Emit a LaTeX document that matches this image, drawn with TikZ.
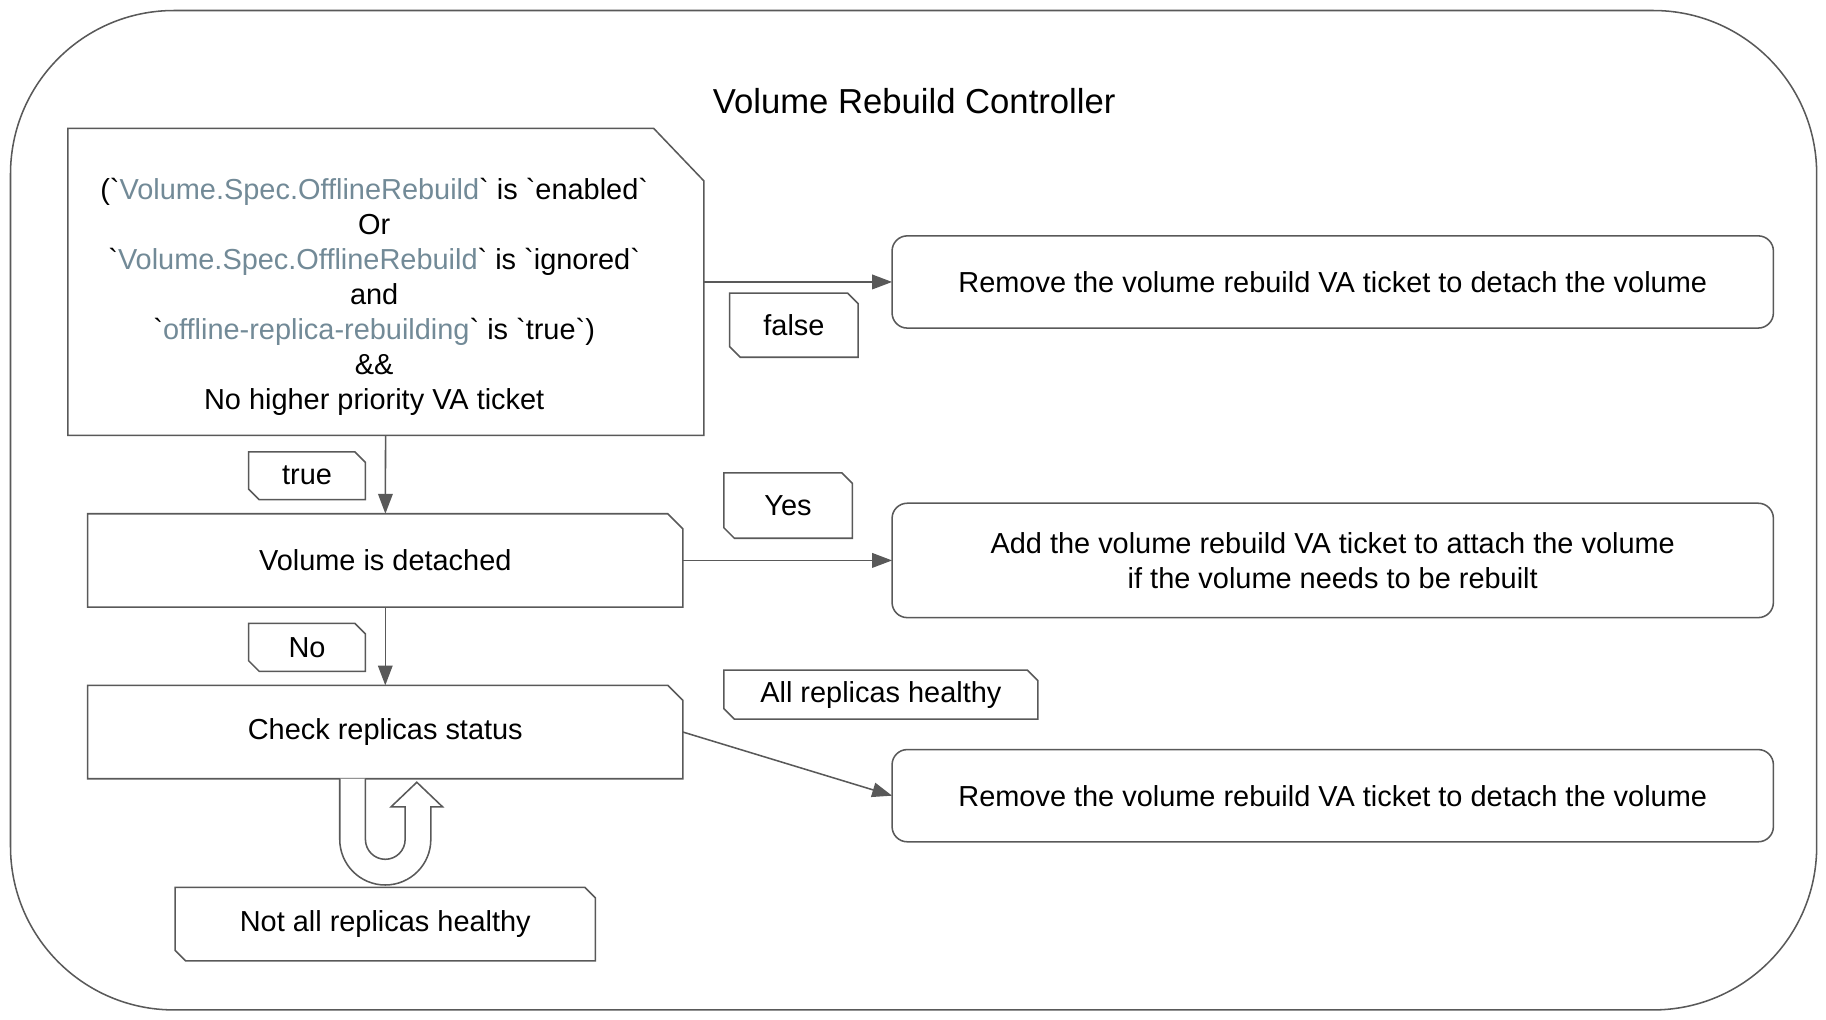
\documentclass[tikz,border=0pt]{standalone}
\usepackage{fontspec}
\setmainfont{Liberation Sans}
\usetikzlibrary{arrows.meta}
\definecolor{linegray}{HTML}{595959}
\definecolor{codegray}{HTML}{728A97}
\newcommand{\bq}{\textasciigrave}
\newcommand{\code}[1]{\textcolor{codegray}{#1}}
\tikzset{
  edge/.style={draw=linegray, line width=0.75pt},
  flow/.style={edge, -{Triangle[length=0.34cm,width=0.25cm]}},
  box/.style={rectangle, inner sep=0pt, outer sep=0pt, align=center},
  act/.style={box, edge, rounded corners=0.26cm, minimum width=15.1cm},
}
\begin{document}
\begin{tikzpicture}[x=0.02cm, y=-0.02cm, font=\fontsize{14.1}{17}\selectfont]
  \useasboundingbox (0,0) rectangle (1564,873);
  \draw[edge, rounded corners=2.8cm] (9,9) rectangle (1556,865);
  \node (title) at (783,87) {\fontsize{16.9}{20}\selectfont Volume Rebuild Controller};

  % decision and steps
  \node (cond) at (330.5,241.5) [box, minimum width=10.9cm, minimum height=5.26cm]
    {\begin{tabular}{@{}c@{\hspace{0.4cm}}}
     \rule{0pt}{0.95cm}(\bq\code{Volume.Spec.OfflineRebuild}\bq{} is \bq enabled\bq\\
     Or\\
     \bq\code{Volume.Spec.OfflineRebuild}\bq{} is \bq ignored\bq\\
     and\\
     \bq\code{offline-replica-rebuilding}\bq{} is \bq true\bq)\\
     \&\&\\
     No higher priority VA ticket
     \end{tabular}};
  \node (detached) at (330,480) [box, minimum width=10.2cm, minimum height=1.6cm] {Volume is detached};
  \node (check) at (330,627) [box, minimum width=10.2cm, minimum height=1.6cm] {Check replicas status};

  % actions
  \node (rm1) at (1141.5,241.5) [act, minimum height=1.58cm] {Remove the volume rebuild VA ticket to detach the volume};
  \node (add) at (1141.5,480) [act, minimum height=1.96cm] {Add the volume rebuild VA ticket to attach the volume\\if the volume needs to be rebuilt};
  \node (rm2) at (1141.5,681.5) [act, minimum height=1.58cm] {Remove the volume rebuild VA ticket to detach the volume};

  % labels
  \node (false) at (680,278.5) [box, minimum width=2.2cm, minimum height=1.1cm] {false};
  \node (true) at (263,407.5) [box, minimum width=2cm, minimum height=0.82cm] {true};
  \node (yes) at (675,433) [box, minimum width=2.2cm, minimum height=1.12cm] {Yes};
  \node (no) at (263,554.5) [box, minimum width=2cm, minimum height=0.82cm] {No};
  \node (allok) at (754.5,595) [box, minimum width=5.38cm, minimum height=0.84cm] {All replicas healthy};
  \node (notall) at (330,791.5) [box, minimum width=7.2cm, minimum height=1.26cm] {Not all replicas healthy};

  % snipped outlines
  \foreach \n/\cx/\cy in {cond/0.86cm/0.9cm, detached/0.26cm/0.26cm, check/0.26cm/0.26cm}
  \draw[edge] (\n.north west) -- ([xshift=-\cx]\n.north east) -- ([yshift=-\cy]\n.north east) --
  (\n.south east) -- (\n.south west) -- cycle;
  \foreach \n in {false, true, yes, no, allok, notall}
  \draw[edge] (\n.north west) -- ([xshift=-0.18cm]\n.north east) -- ([yshift=-0.18cm]\n.north east) --
  (\n.south east) -- ([xshift=0.18cm]\n.south west) -- ([yshift=0.18cm]\n.south west) -- cycle;

  \draw[flow] (cond) -- (rm1);
  \draw[flow] (cond) -- (detached);
  \draw[flow] (detached) -- (add);
  \draw[flow] (detached) -- (check);
  \draw[flow] (check.east) -- (rm2.west);

  % loop back arrow
  \draw[edge, fill=white]
    (check.south -| 291,0) -- (291,719) arc[start angle=180, end angle=0, radius=39]
    -- (369,691) -- (379,691) -- (357,670) -- (335,691) -- (347,691) -- (347,719)
    arc[start angle=0, end angle=180, radius=17] -- (check.south -| 313,0);
\end{tikzpicture}
\end{document}
